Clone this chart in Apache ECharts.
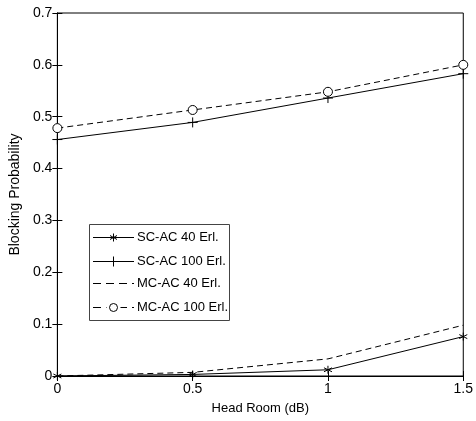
<!DOCTYPE html>
<html><head><meta charset="utf-8">
<script src="https://cdn.jsdelivr.net/npm/echarts@6/dist/echarts.min.js"></script>
<style>html,body{margin:0;padding:0;background:#fff}#c{width:476px;height:421px}</style>
</head><body><div id="c"></div>
<script>
const headRoom = [0, 0.5, 1, 1.5];
const scac40 = [0, 0.003, 0.012, 0.076];
const scac100 = [0.456, 0.489, 0.536, 0.583];
const mcac40 = [0, 0.007, 0.033, 0.098];
const mcac100 = [0.478, 0.513, 0.548, 0.600];
const seriesNames = ['SC-AC 40 Erl.', 'SC-AC 100 Erl.', 'MC-AC 40 Erl.', 'MC-AC 100 Erl.'];
const xTicks = [0, 0.5, 1, 1.5];
const yTicks = [0, 0.1, 0.2, 0.3, 0.4, 0.5, 0.6, 0.7];

const FONT = '"Liberation Sans", Arial, sans-serif';
const asterisk = 'path://M0,-5L0,5M-4.3,-2.5L4.3,2.5M-4.3,2.5L4.3,-2.5';
const plus = 'path://M0,-5L0,5M-5,0L5,0';
const DASH = [6, 4];
const pair = arr => headRoom.map((x, i) => [x, arr[i]]);

const chart = echarts.init(document.getElementById('c'), null, {renderer: 'canvas'});
const baseSeries = (name, data, symbol, size, dashed) => ({
  name, type: 'line', data: pair(data), clip: false,
  symbol, symbolSize: size, showSymbol: symbol !== 'none',
  lineStyle: {color: '#000', width: 1, type: dashed ? DASH : 'solid'},
  itemStyle: {color: symbol === 'circle' ? '#fff' : 'none', borderColor: '#000', borderWidth: 1},
  emphasis: {disabled: true}, animation: false
});

// legend drawn as graphic (box, sample lines, markers, labels)
const legendStyle = [
  {dash: null, mark: 'asterisk'},
  {dash: null, mark: 'plus'},
  {dash: [8, 5], mark: null},
  {dash: [8, 5], mark: 'circle'}
];
const LX = 89, LY = 224, LW = 140, LH = 96;
const rowY = [237, 261, 283, 307];
const seg = (x1, y1, x2, y2, z) => ({type: 'line', shape: {x1, y1, x2, y2},
  style: {stroke: '#000', lineWidth: 1}, z: z || 12});
const legendGraphic = [{
  type: 'rect', shape: {x: LX + 0.5, y: LY + 0.5, width: LW, height: LH},
  style: {fill: '#fff', stroke: '#444', lineWidth: 1}, z: 10
}];
seriesNames.forEach((name, i) => {
  const y = rowY[i] + 0.5, x1 = 93, x2 = 134, mx = 113.5;
  const ln = {type: 'line', shape: {x1, y1: y, x2, y2: y},
    style: {stroke: '#000', lineWidth: 1}, z: 11};
  if (legendStyle[i].dash) ln.style.lineDash = legendStyle[i].dash;
  legendGraphic.push(ln);
  const m = legendStyle[i].mark;
  if (m === 'asterisk') {
    legendGraphic.push(seg(mx, y - 4, mx, y + 4));
    legendGraphic.push(seg(mx - 3.5, y - 2, mx + 3.5, y + 2));
    legendGraphic.push(seg(mx - 3.5, y + 2, mx + 3.5, y - 2));
  } else if (m === 'plus') {
    legendGraphic.push(seg(mx, y - 5, mx, y + 5));
  } else if (m === 'circle') {
    legendGraphic.push({type: 'rect', shape: {x: mx - 7, y: y - 1.5, width: 14, height: 3}, style: {fill: '#fff'}, z: 11.5});
    legendGraphic.push({type: 'circle', shape: {cx: mx, cy: y, r: 4},
      style: {stroke: '#000', fill: '#fff', lineWidth: 1}, z: 12});
  }
  legendGraphic.push({type: 'text', x: 137, y: rowY[i], z: 12,
    style: {text: name, font: '13px ' + FONT, fill: '#000', verticalAlign: 'middle', textAlign: 'left'}});
});

chart.setOption({
  animation: false,
  backgroundColor: '#fff',
  grid: {left: 55, right: 8, top: 13, bottom: 45, show: true, borderColor: '#000', borderWidth: 1},
  xAxis: [{
    type: 'value', min: 0, max: 1.5, interval: 0.5,
    name: 'Head Room (dB)', nameLocation: 'middle', nameGap: 26,
    nameTextStyle: {fontFamily: FONT, fontSize: 13, color: '#000'},
    axisLine: {show: true, onZero: false, lineStyle: {color: '#000'}},
    axisTick: {show: true, inside: true, length: 5, lineStyle: {color: '#000'}},
    axisLabel: {fontFamily: FONT, fontSize: 14, color: '#000', margin: 6,
      formatter: v => xTicks.includes(v) ? String(v) : ''},
    splitLine: {show: false}
  }, {
    type: 'value', min: 0, max: 1.5, interval: 0.5, position: 'top',
    axisLine: {show: true, lineStyle: {color: '#000'}},
    axisTick: {show: true, inside: true, length: 5, lineStyle: {color: '#000'}},
    axisLabel: {show: false}, splitLine: {show: false}
  }],
  yAxis: [{
    type: 'value', min: 0, max: 0.7, interval: 0.1,
    name: 'Blocking Probability', nameLocation: 'middle', nameGap: 30,
    nameTextStyle: {fontFamily: FONT, fontSize: 14, color: '#000'},
    axisLine: {show: true, onZero: false, lineStyle: {color: '#000'}},
    axisTick: {show: true, inside: true, length: 5, lineStyle: {color: '#000'}},
    axisLabel: {fontFamily: FONT, fontSize: 14, color: '#000', margin: 5,
      formatter: v => { const t = yTicks.find(y => Math.abs(y - v) < 1e-9); return t === undefined ? '' : String(t); }},
    splitLine: {show: false}
  }, {
    type: 'value', min: 0, max: 0.7, interval: 0.1, position: 'right',
    axisLine: {show: true, lineStyle: {color: '#000'}},
    axisTick: {show: true, inside: true, length: 5, lineStyle: {color: '#000'}},
    axisLabel: {show: false}, splitLine: {show: false}
  }],
  graphic: legendGraphic,
  series: [
    baseSeries(seriesNames[0], scac40, asterisk, 8, false),
    baseSeries(seriesNames[1], scac100, plus, 10, false),
    baseSeries(seriesNames[2], mcac40, 'none', 0, true),
    baseSeries(seriesNames[3], mcac100, 'circle', 9, true)
  ]
});
</script></body></html>
